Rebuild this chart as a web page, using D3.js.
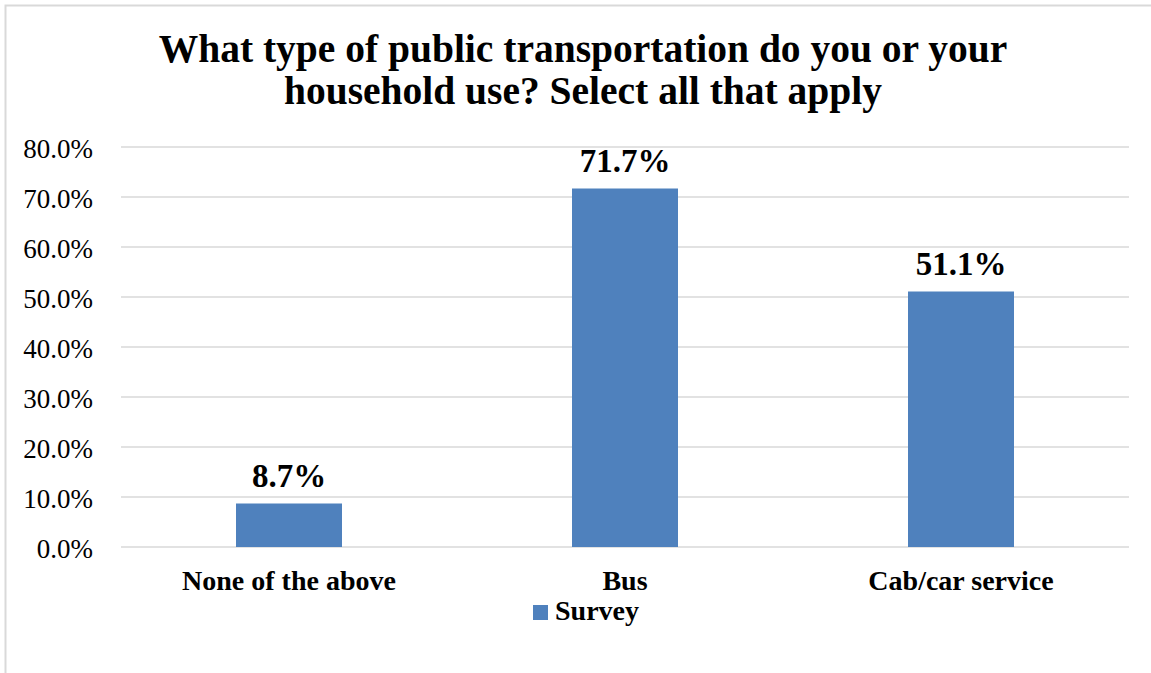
<!DOCTYPE html>
<html>
<head>
<meta charset="utf-8">
<script src="https://cdn.jsdelivr.net/npm/d3@7"></script>
<style>
  html, body { margin: 0; padding: 0; background: #fff; }
  svg { display: block; }
  text { font-family: "Liberation Serif", "DejaVu Serif", serif; fill: #000; }
</style>
</head>
<body>
<svg id="chart" width="1151" height="673"></svg>
<script>
// Survey responses (share of respondents, %)
const categories = ["None of the above", "Bus", "Cab/car service"];
const values = [8.7, 71.7, 51.1];
const tickValues = [0, 10, 20, 30, 40, 50, 60, 70, 80];
const seriesName = "Survey";
const titleLines = ["What type of public transportation do you or your", "household use? Select all that apply"];

const W = 1151, H = 673;
const margin = { left: 121, right: 22, top: 147, bottom: 126 };
const FONT = "Liberation Serif";
const svg = d3.select("#chart");

// chart area border
svg.append("rect")
  .attr("x", 5.5).attr("y", 5.5)
  .attr("width", W + 10).attr("height", H + 10)
  .attr("fill", "#fff").attr("stroke", "#d9d9d9").attr("stroke-width", 2);

const barRatio = 106 / 336;
const x = d3.scaleBand().domain(categories)
  .range([margin.left, W - margin.right])
  .paddingInner(1 - barRatio).paddingOuter((1 - barRatio) / 2);
const y = d3.scaleLinear().domain([0, 80]).range([H - margin.bottom, margin.top]);

// gridlines
svg.append("g").selectAll("line").data(tickValues).join("line")
  .attr("x1", margin.left).attr("x2", W - margin.right)
  .attr("y1", d => y(d)).attr("y2", d => y(d))
  .attr("stroke", "#d9d9d9").attr("stroke-width", 1.5);

// y axis labels
const yAxis = d3.axisLeft(y).tickValues(tickValues).tickSize(0).tickPadding(28)
  .tickFormat(d => d3.format(".1f")(d) + "%");
const gy = svg.append("g").attr("transform", `translate(${margin.left},0)`).call(yAxis);
gy.select(".domain").remove();
gy.selectAll("text").attr("font-family", FONT).attr("font-size", 27)
  .attr("dy", "0.37em").attr("fill", "#000");

// bars
svg.append("g").selectAll("rect").data(values).join("rect")
  .attr("x", (d, i) => x(categories[i]))
  .attr("width", x.bandwidth())
  .attr("y", d => y(d))
  .attr("height", d => y(0) - y(d))
  .attr("fill", "#4f81bd");

// value labels
svg.append("g").selectAll("text").data(values).join("text")
  .attr("x", (d, i) => x(categories[i]) + x.bandwidth() / 2)
  .attr("y", d => y(d) - 17)
  .attr("text-anchor", "middle")
  .attr("font-weight", "bold").attr("font-size", 33)
  .text(d => d.toFixed(1) + "%");

// x axis labels
const xAxis = d3.axisBottom(x).tickSize(0).tickPadding(23);
const gx = svg.append("g").attr("transform", `translate(0,${y(0)})`).call(xAxis);
gx.select(".domain").remove();
gx.selectAll("text").attr("font-family", FONT).attr("font-size", 28)
  .attr("font-weight", "bold").attr("fill", "#000");

// title
svg.append("g").selectAll("text").data(titleLines).join("text")
  .attr("x", 583).attr("y", (d, i) => 62 + i * 42)
  .attr("text-anchor", "middle")
  .attr("font-weight", "bold").attr("font-size", 39.5)
  .text(d => d);

// legend
const lg = svg.append("g").attr("transform", "translate(533,605)");
lg.append("rect").attr("width", 15).attr("height", 15).attr("fill", "#4f81bd");
lg.append("text").attr("x", 22).attr("y", 15)
  .attr("font-weight", "bold").attr("font-size", 28).text(seriesName);
</script>
</body>
</html>
